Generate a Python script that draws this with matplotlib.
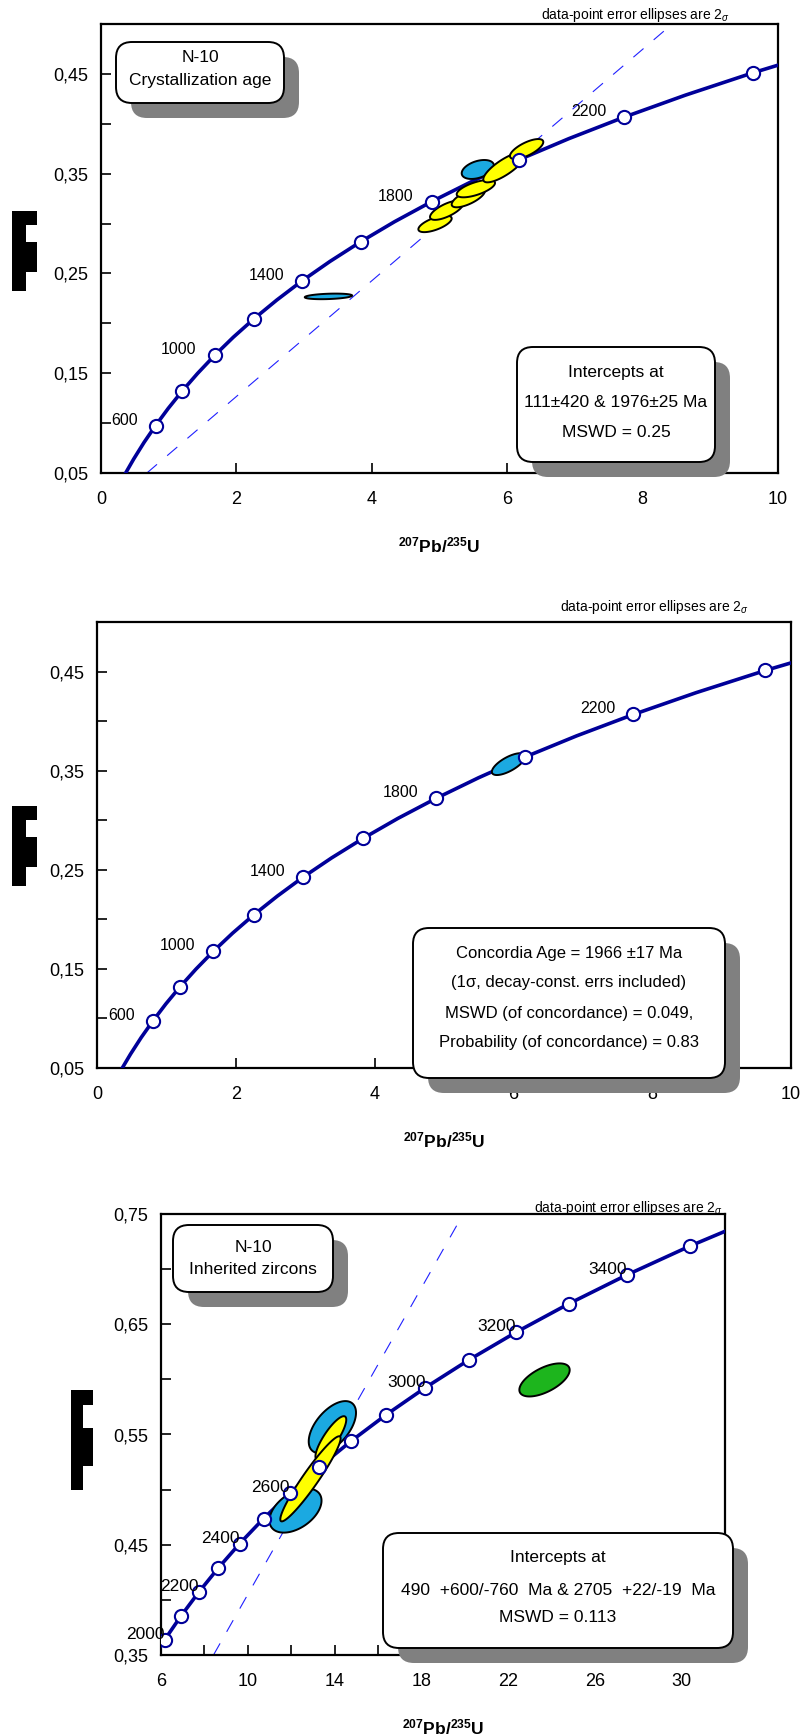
import numpy as np
import matplotlib.pyplot as plt
from matplotlib.patches import FancyBboxPatch, Rectangle, Polygon
from matplotlib.transforms import Affine2D

plt.rcParams['font.family'] = ['Liberation Sans', 'DejaVu Sans']
plt.rcParams['mathtext.fontset'] = 'custom'
plt.rcParams['mathtext.rm'] = 'Liberation Sans'
plt.rcParams['mathtext.it'] = 'Liberation Sans:italic'
plt.rcParams['mathtext.bf'] = 'Liberation Sans:bold'

W, H, DPI = 803, 1735, 100

# concordia points (age in Ma, 207Pb/235U, 206Pb/238U)
conc_age = [300, 400, 500, 600, 700, 800, 900, 1000, 1100, 1200, 1300, 1400,
            1500, 1600, 1700, 1800, 1900, 2000, 2100, 2200, 2300, 2400, 2500,
            2600, 2700, 2800, 2900, 3000, 3100, 3200, 3300, 3400, 3500, 3600]
conc_x = [0.3437, 0.4828, 0.6363, 0.8056, 0.9925, 1.1987, 1.4263, 1.6774,
          1.9545, 2.2603, 2.5977, 2.9701, 3.3810, 3.8344, 4.3348, 4.8869,
          5.4962, 6.1685, 6.9105, 7.7292, 8.6326, 9.6297, 10.7297, 11.9437,
          13.2833, 14.7617, 16.3930, 18.1931, 20.1795, 22.3716, 24.7905,
          27.4597, 30.4053, 33.6556]
conc_y = [0.0476, 0.0640, 0.0807, 0.0975, 0.1147, 0.1321, 0.1498, 0.1678,
          0.1861, 0.2046, 0.2234, 0.2426, 0.2620, 0.2817, 0.3018, 0.3221,
          0.3428, 0.3638, 0.3851, 0.4067, 0.4287, 0.4511, 0.4738, 0.4968,
          0.5202, 0.5440, 0.5681, 0.5926, 0.6175, 0.6428, 0.6685, 0.6946,
          0.7211, 0.7480]

marks_low = [600, 800, 1000, 1200, 1400, 1600, 1800, 2000, 2200, 2400]
labels_low = [600, 1000, 1400, 1800, 2200]
marks_high = [2000, 2100, 2200, 2300, 2400, 2500, 2600, 2700, 2800, 2900,
              3000, 3100, 3200, 3300, 3400, 3500]
labels_high = [2000, 2200, 2400, 2600, 3000, 3200, 3400]

# discordia lines: lower and upper intercept points
disc1 = [(0.1155, 0.0174), (6.001, 0.3587)]
disc3 = [(0.6202, 0.0790), (13.354, 0.5214)]

# error ellipses: (x, y, half-width x, half-height y, rho)
p1_blue = [(3.36, 0.2270, 0.35, 0.0028, 0.3),
           (5.566, 0.3542, 0.238, 0.0095, 0.4)]
p1_yellow = [(4.934, 0.2997, 0.246, 0.0083, 0.65),
             (5.106, 0.3134, 0.246, 0.0097, 0.7),
             (5.426, 0.3260, 0.246, 0.0097, 0.7),
             (5.537, 0.3350, 0.283, 0.0087, 0.65),
             (5.955, 0.3563, 0.308, 0.0150, 0.8),
             (6.287, 0.3747, 0.246, 0.0100, 0.7)]
p2_blue = [(5.93, 0.3566, 0.24, 0.0110, 0.7)]
p3_blue = [(13.90, 0.5567, 1.09, 0.0236, 0.55),
           (12.20, 0.4810, 1.20, 0.0200, 0.45)]
p3_yellow = [(13.83, 0.5468, 0.71, 0.0198, 0.84),
             (12.89, 0.5098, 1.39, 0.0386, 0.95)]
p3_green = [(23.68, 0.5995, 1.16, 0.0150, 0.6)]

yticks_low = [0.05, 0.10, 0.15, 0.20, 0.25, 0.30, 0.35, 0.40, 0.45, 0.50]
ylabels_low = ['0,05', '', '0,15', '', '0,25', '', '0,35', '', '0,45', '']
xticks_low = [0, 2, 4, 6, 8, 10]
yticks_high = [0.35, 0.40, 0.45, 0.50, 0.55, 0.60, 0.65, 0.70, 0.75]
ylabels_high = ['0,35', '', '0,45', '', '0,55', '', '0,65', '', '0,75']
xticks_high = [6, 8, 10, 12, 14, 16, 18, 20, 22, 24, 26, 28, 30, 32]
xlabels_high = ['6', '', '10', '', '14', '', '18', '', '22', '', '26', '', '30', '']

NAVY = '#000099'
BLUE = '#1BA9E1'
YELLOW = '#FFFF00'
GREEN = '#1DB51D'

fig = plt.figure(figsize=(W / DPI, H / DPI), dpi=DPI)
pix = Affine2D().scale(1.0 / DPI) + fig.dpi_scale_trans


def add_ax(x0, y0, x1, y1):
    return fig.add_axes([x0 / W, 1 - y1 / H, (x1 - x0) / W, (y1 - y0) / H])


def ellipses(ax, data, color):
    t = np.linspace(0, 2 * np.pi, 150)
    for cx, cy, ex, ey, rho in data:
        xs = cx + ex * np.cos(t)
        ys = cy + ey * (rho * np.cos(t) + np.sqrt(1 - rho ** 2) * np.sin(t))
        ax.add_patch(Polygon(np.column_stack([xs, ys]), closed=True,
                             fc=color, ec='black', lw=1.4, zorder=4))


def concordia(ax, marks, labels, dx, fs):
    ax.plot(conc_x, conc_y, color=NAVY, lw=2.6, zorder=3)
    idx = [conc_age.index(a) for a in marks]
    ax.plot([conc_x[i] for i in idx], [conc_y[i] for i in idx], 'o', ms=9.5,
            mfc='white', mec=NAVY, mew=1.5, zorder=5)
    for a in labels:
        i = conc_age.index(a)
        ax.annotate(str(a), (conc_x[i], conc_y[i]), xytext=(dx, 1),
                    textcoords='offset pixels', ha='right', va='baseline',
                    fontsize=fs, zorder=6, annotation_clip=False)


def style(ax, xl, yl, yticks, ylabels, xticks, xlabels):
    ax.set_xlim(*xl)
    ax.set_ylim(*yl)
    ax.set_yticks(yticks)
    ax.set_yticklabels(ylabels)
    ax.set_xticks(xticks)
    ax.set_xticklabels(xlabels)
    ax.tick_params(direction='in', length=7, width=1.2, labelsize=13, pad=9)
    ax.tick_params(axis='x', pad=13)
    for s in ax.spines.values():
        s.set_linewidth(1.6)
    ax.set_xlabel(r'$^{\mathbf{207}}$Pb/$^{\mathbf{235}}$U', fontsize=12.5,
                  fontweight='bold', labelpad=20)


def box(x0, y0, x1, y1, lines, ys, fs=12.5):
    for dx, col in ((15, '#808080'), (0, 'white')):
        fig.add_artist(FancyBboxPatch((x0 + dx, H - y1 - dx), x1 - x0, y1 - y0,
                                      boxstyle='round,pad=0,rounding_size=16',
                                      fc=col, ec='black' if col == 'white' else 'none',
                                      lw=1.4, transform=pix, zorder=10))
    for s, yy in zip(lines, ys):
        fig.text((x0 + x1) / 2 / W, 1 - yy / H, s, ha='center', va='center',
                 fontsize=fs, zorder=11)


def ylab_block(x0, x1, x2, y0, y1, y2, y3, y4):
    for rx, ry, rw, rh in ((x0, y0, x1 - x0, y4 - y0), (x1, y0, x2 - x1, y1 - y0),
                           (x1, y2, x2 - x1, y3 - y2)):
        fig.add_artist(Rectangle((rx, H - ry - rh), rw, rh, fc='black', ec='none',
                                 transform=pix))


note = 'data-point error ellipses are 2$_{\\sigma}$'

# panel 1: crystallization age
ax1 = add_ax(101, 24, 778, 473)
style(ax1, (0, 10), (0.05, 0.5), yticks_low, ylabels_low, xticks_low,
      [str(v) for v in xticks_low])
concordia(ax1, marks_low, labels_low, -18, 11.5)
ax1.axline(disc1[0], disc1[1], color='#2020FF', lw=0.8, ls=(0, (12, 12)), zorder=2)
ellipses(ax1, p1_blue, BLUE)
ellipses(ax1, p1_yellow, YELLOW)
fig.text(635 / W, 1 - 15 / H, note, ha='center', va='center', fontsize=10)
box(116, 42, 284, 103, ['N-10', 'Crystallization age'], [58, 80])
box(517, 347, 715, 462, ['Intercepts at', '111±420 & 1976±25 Ma', 'MSWD = 0.25'],
    [372, 402, 432])
ylab_block(12, 26, 37, 211, 225, 242, 272, 291)

# panel 2: concordia age
ax2 = add_ax(97, 622, 791, 1068)
style(ax2, (0, 10), (0.05, 0.5), yticks_low, ylabels_low, xticks_low,
      [str(v) for v in xticks_low])
concordia(ax2, marks_low, labels_low, -18, 11.5)
ellipses(ax2, p2_blue, BLUE)
fig.text(654 / W, 1 - 607 / H, note, ha='center', va='center', fontsize=10)
box(413, 928, 725, 1078, ['Concordia Age = 1966 ±17 Ma',
                          '(1σ, decay-const. errs included)',
                          'MSWD (of concordance) = 0.049,',
                          'Probability (of concordance) = 0.83'],
    [953, 983, 1013, 1043], fs=12)
ylab_block(12, 26, 37, 806, 820, 837, 867, 886)

# panel 3: inherited zircons
ax3 = add_ax(161, 1214, 725, 1655)
style(ax3, (6, 32), (0.35, 0.75), yticks_high, ylabels_high, xticks_high,
      xlabels_high)
concordia(ax3, marks_high, labels_high, 0, 12.5)
ax3.axline(disc3[0], disc3[1], color='#2020FF', lw=0.8, ls=(0, (12, 12)), zorder=2)
ellipses(ax3, p3_blue, BLUE)
ellipses(ax3, p3_yellow, YELLOW)
ellipses(ax3, p3_green, GREEN)
fig.text(628 / W, 1 - 1208 / H, note, ha='center', va='center', fontsize=10)
box(173, 1225, 333, 1292, ['N-10', 'Inherited zircons'], [1248, 1270])
box(383, 1533, 733, 1648, ['Intercepts at',
                           '490  +600/-760  Ma & 2705  +22/-19  Ma',
                           'MSWD = 0.113'], [1557, 1590, 1617])
ylab_block(71, 83, 93, 1390, 1405, 1428, 1466, 1490)

fig.savefig('out.png', dpi=DPI)
